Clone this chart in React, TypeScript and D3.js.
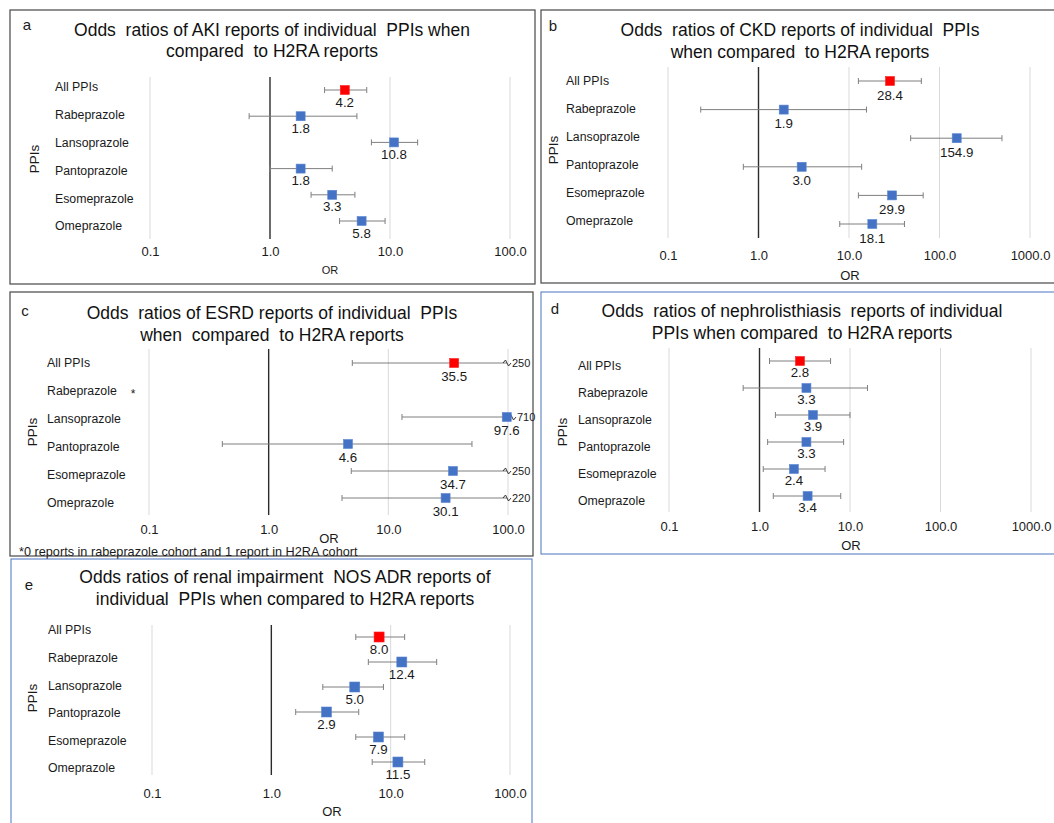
import React, { useEffect, useRef } from "react";
import * as d3 from "d3";

const CATEGORIES = ["All PPIs", "Rabeprazole", "Lansoprazole", "Pantoprazole", "Esomeprazole", "Omeprazole"];

const AKI_OR = [4.2, 1.8, 10.8, 1.8, 3.3, 5.8];
const AKI_LO = [2.85, 0.67, 7.0, 1.0, 2.2, 3.8];
const AKI_HI = [6.4, 5.3, 17.0, 3.3, 5.1, 9.1];

const CKD_OR = [28.4, 1.9, 154.9, 3.0, 29.9, 18.1];
const CKD_LO = [12.7, 0.23, 48, 0.68, 12.7, 7.9];
const CKD_HI = [63, 15.6, 490, 13.8, 66, 41];

const ESRD_OR = [35.5, null, 97.6, 4.6, 34.7, 30.1];
const ESRD_LO = [5.0, null, 13.0, 0.41, 4.9, 4.1];
const ESRD_HI = [250, null, 710, 50, 250, 220];

const NEPH_OR = [2.8, 3.3, 3.9, 3.3, 2.4, 3.4];
const NEPH_LO = [1.29, 0.66, 1.5, 1.23, 1.1, 1.42];
const NEPH_HI = [6.1, 15.6, 10.0, 8.5, 5.3, 7.9];

const RENAL_OR = [8.0, 12.4, 5.0, 2.9, 7.9, 11.5];
const RENAL_LO = [5.1, 6.5, 2.7, 1.6, 5.1, 7.0];
const RENAL_HI = [13.1, 24.3, 8.7, 5.4, 13.1, 19.3];

const TICKS_SHORT = [0.1, 1, 10, 100];
const TICKS_LONG = [0.1, 1, 10, 100, 1000];

const TITLES = {
  a: ["Odds  ratios of AKI reports of individual  PPIs when", "compared  to H2RA reports"],
  b: ["Odds  ratios of CKD reports of individual  PPIs", "when compared  to H2RA reports"],
  c: ["Odds  ratios of ESRD reports of individual  PPIs", "when  compared  to H2RA reports"],
  d: ["Odds  ratios of nephrolisthiasis  reports of individual", "PPIs when compared  to H2RA reports"],
  e: ["Odds ratios of renal impairment  NOS ADR reports of", "individual  PPIs when compared to H2RA reports"],
};

const FOOTNOTE = "*0 reports in rabeprazole cohort and 1 report in H2RA cohort";

const FONT = "'Liberation Sans', Arial, sans-serif";
const TXT = "#1a1a1a";

// layout of each panel on the page
const panels = [
  {
    id: "a", or: AKI_OR, lo: AKI_LO, hi: AKI_HI, ticks: TICKS_SHORT,
    box: [10, 10, 535, 284], border: "#555", titleX: 272, titleY: [30, 51], letter: [27, 25],
    xr: [150, 510], grid: [77, 239], tickY: 251, orXY: [330, 270], orSize: 11,
    ppis: [34, 159], catX: 55, catY: [87, 226], markY: [90, 221], labDy: 12, ms: 9,
  },
  {
    id: "b", or: CKD_OR, lo: CKD_LO, hi: CKD_HI, ticks: TICKS_LONG,
    box: [541, 10, 1070, 283], border: "#555", titleX: 800, titleY: [30, 52], letter: [553, 26],
    xr: [668, 1030], grid: [67, 238], tickY: 255, orXY: [850, 275], orSize: 13,
    ppis: [553, 150], catX: 566, catY: [81, 221], markY: [81, 224], labDy: 14, ms: 9,
  },
  {
    id: "c", or: ESRD_OR, lo: ESRD_LO, hi: ESRD_HI, ticks: TICKS_SHORT,
    box: [10, 292, 533, 556], border: "#555", titleX: 272, titleY: [313, 335], letter: [25, 311],
    xr: [149, 508], grid: [349, 515], tickY: 529, orXY: [329, 538], orSize: 13,
    ppis: [32, 432], catX: 47, catY: [363, 503], markY: [363, 498], labDy: 13, ms: 9,
  },
  {
    id: "d", or: NEPH_OR, lo: NEPH_LO, hi: NEPH_HI, ticks: TICKS_LONG,
    box: [541, 292, 1070, 554], border: "#4a74c0", titleX: 802, titleY: [311, 333], letter: [555, 309],
    xr: [669, 1031], grid: [348, 512], tickY: 526, orXY: [851, 545], orSize: 13,
    ppis: [562, 432], catX: 578, catY: [366, 501], markY: [361, 496], labDy: 11, ms: 9,
  },
  {
    id: "e", or: RENAL_OR, lo: RENAL_LO, hi: RENAL_HI, ticks: TICKS_SHORT,
    box: [11, 559, 532, 840], border: "#4a74c0", titleX: 285, titleY: [577, 599], letter: [29, 585],
    xr: [152, 510], grid: [625, 775], tickY: 793, orXY: [332, 811], orSize: 13,
    ppis: [32, 698], catX: 48, catY: [630, 768], markY: [637, 762], labDy: 12, ms: 10,
  },
];

export default function App() {
  const svgRef = useRef<SVGSVGElement>(null);

  useEffect(() => {
    const svg = d3.select(svgRef.current);
    svg.selectAll("*").remove();
    svg.append("rect").attr("width", 1054).attr("height", 823).attr("fill", "#fff");

    panels.forEach((p) => {
      const g = svg.append("g").attr("font-family", FONT);
      const [x0, y0, x1, y1] = p.box;
      g.append("rect")
        .attr("x", x0).attr("y", y0).attr("width", x1 - x0).attr("height", y1 - y0)
        .attr("fill", "none").attr("stroke", p.border).attr("stroke-width", p.border === "#555" ? 1.3 : 1);

      g.append("text").attr("x", p.letter[0]).attr("y", p.letter[1]).attr("dy", "0.35em")
        .attr("text-anchor", "middle").attr("font-size", 15).attr("fill", TXT).text(p.id);

      TITLES[p.id].forEach((line, i) => {
        g.append("text").attr("x", p.titleX).attr("y", p.titleY[i]).attr("dy", "0.35em")
          .attr("text-anchor", "middle").attr("font-size", 17.5).attr("fill", "#111")
          .style("white-space", "pre").text(line);
      });

      const maxT = p.ticks[p.ticks.length - 1];
      const x = d3.scaleLog().domain([0.1, maxT]).range(p.xr);
      const yMark = d3.scalePoint().domain(CATEGORIES).range(p.markY);
      const yCat = d3.scalePoint().domain(CATEGORIES).range(p.catY);

      // gridlines and reference line at 1.0
      g.selectAll(".grid").data(p.ticks).join("line")
        .attr("x1", (d) => x(d)).attr("x2", (d) => x(d))
        .attr("y1", p.grid[0]).attr("y2", p.grid[1])
        .attr("stroke", (d) => (d === 1 ? "#2b2b2b" : "#d9d9d9"))
        .attr("stroke-width", (d) => (d === 1 ? 1.4 : 1));

      const axis = d3.axisBottom(x).tickValues(p.ticks).tickFormat(d3.format(".1f")).tickSize(0).tickPadding(0);
      const ag = g.append("g").attr("transform", `translate(0,${p.tickY})`).call(axis);
      ag.select(".domain").remove();
      ag.selectAll("text").attr("dy", "0.35em").attr("font-size", 13).attr("font-family", FONT).attr("fill", TXT);

      g.append("text").attr("x", p.orXY[0]).attr("y", p.orXY[1]).attr("dy", "0.35em")
        .attr("text-anchor", "middle").attr("font-size", p.orSize).attr("fill", TXT).text("OR");

      g.append("text").attr("transform", `translate(${p.ppis[0]},${p.ppis[1]}) rotate(-90)`)
        .attr("dy", "0.35em").attr("text-anchor", "middle").attr("font-size", 13.5).attr("fill", TXT).text("PPIs");

      g.selectAll(".cat").data(CATEGORIES).join("text")
        .attr("x", p.catX).attr("y", (d) => yCat(d)).attr("dy", "0.35em")
        .attr("font-size", 12.3).attr("fill", TXT).text((d) => d);

      const rows = CATEGORIES.map((c, i) => ({ c, i, or: p.or[i], lo: p.lo[i], hi: p.hi[i] }))
        .filter((r) => r.or != null);

      rows.forEach((r) => {
        const cy = yMark(r.c);
        const xl = x(r.lo);
        const cut = r.hi > maxT;
        const xh = cut ? x(maxT) - 1 : x(r.hi);
        g.append("line").attr("x1", xl).attr("x2", xh).attr("y1", cy).attr("y2", cy)
          .attr("stroke", "#7f7f7f").attr("stroke-width", 1);
        g.append("line").attr("x1", xl).attr("x2", xl).attr("y1", cy - 3).attr("y2", cy + 3)
          .attr("stroke", "#7f7f7f").attr("stroke-width", 1);
        if (cut) {
          const near = r.or > maxT * 0.8;
          const bx = near ? x(maxT) + 4 : xh;
          if (near) {
            g.append("line").attr("x1", x(r.or)).attr("x2", bx).attr("y1", cy).attr("y2", cy)
              .attr("stroke", "#7f7f7f").attr("stroke-width", 1);
          }
          g.append("path")
            .attr("d", `M${bx - 4},${cy} L${bx - 1.5},${cy - 3} L${bx + 1.5},${cy + 3} L${bx + 4},${cy}`)
            .attr("fill", "none").attr("stroke", "#333").attr("stroke-width", 1);
          g.append("text").attr("x", bx + 5).attr("y", cy).attr("dy", "0.35em")
            .attr("font-size", 11).attr("fill", TXT).text(String(r.hi));
        } else {
          g.append("line").attr("x1", xh).attr("x2", xh).attr("y1", cy - 3).attr("y2", cy + 3)
            .attr("stroke", "#7f7f7f").attr("stroke-width", 1);
        }
        g.append("rect")
          .attr("x", x(r.or) - p.ms / 2).attr("y", cy - p.ms / 2)
          .attr("width", p.ms).attr("height", p.ms)
          .attr("fill", r.i === 0 ? "#ff0000" : "#4472c4")
          .attr("stroke", r.i === 0 ? "#ff2020" : "#5b86d0").attr("stroke-width", 0.6);
        g.append("text").attr("x", x(r.or)).attr("y", cy + p.labDy).attr("dy", "0.35em")
          .attr("text-anchor", "middle").attr("font-size", 13.3).attr("fill", TXT)
          .text(d3.format(".1f")(r.or));
      });

      if (p.id === "c") {
        g.append("text").attr("x", 133).attr("y", 394).attr("dy", "0.35em")
          .attr("text-anchor", "middle").attr("font-size", 12).attr("fill", TXT).text("*");
        g.append("text").attr("x", 19).attr("y", 552).attr("dy", "0.35em")
          .attr("font-size", 12.7).attr("fill", TXT).text(FOOTNOTE);
      }
    });
  }, []);

  return (
    <svg
      ref={svgRef}
      width={1054}
      height={823}
      style={{ position: "absolute", left: 0, top: 0 }}
    />
  );
}
